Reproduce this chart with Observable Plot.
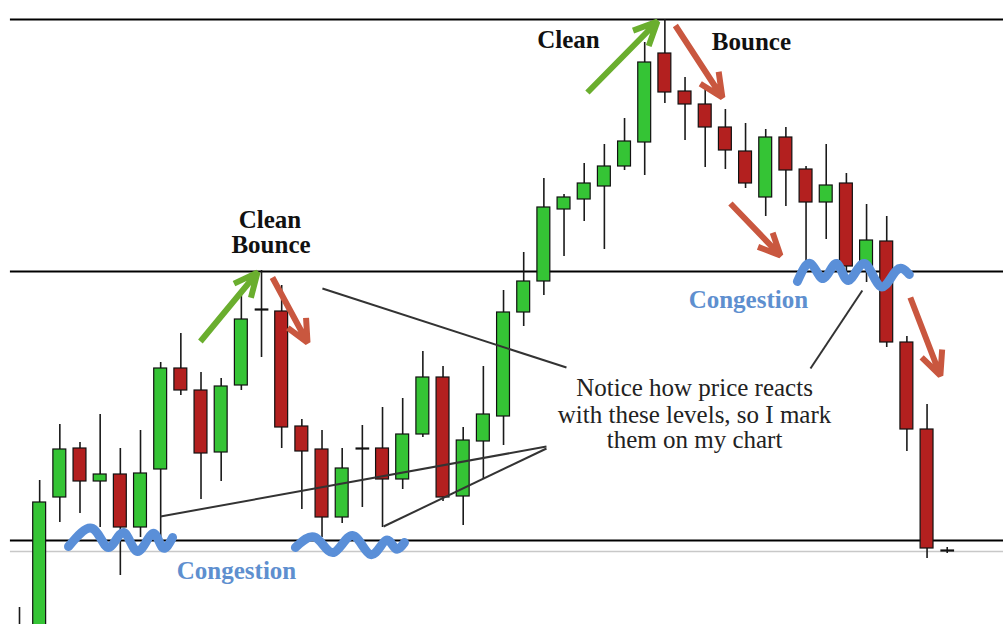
<!DOCTYPE html>
<html><head><meta charset="utf-8">
<script src="https://cdn.jsdelivr.net/npm/d3@7"></script>
<script src="https://cdn.jsdelivr.net/npm/@observablehq/plot@0.6"></script>
<style>html,body{margin:0;padding:0;background:#fff;overflow:hidden}#chart svg{display:block}</style>
</head><body><div id="chart"></div>
<script>
// Candle prices (arbitrary price units)
const opens  = [360,340,503,552,519,526,473,531,632,610,548,615,691,689,574,551,483,552,552,521,566,623,504,559,584,688,719,791,801,814,834,858,947,909,896,873,849,803,863,831,798,817,734,759,658,571,450];
const closes = [300,498,551,519,526,473,527,632,610,547,614,681,691,573,549,483,532,552,521,566,623,503,560,586,688,719,793,803,817,834,859,938,908,896,873,850,817,863,830,798,815,734,760,658,571,452,450];
const highs  = [393,520,576,558,586,552,570,638,667,628,622,705,730,715,581,570,552,575,593,602,649,634,573,634,710,748,822,806,837,856,882,958,981,923,913,891,877,871,873,834,856,827,796,784,664,596,453];
const lows   = [290,320,478,487,473,425,463,460,605,501,519,610,643,552,491,463,477,493,473,511,563,499,475,521,555,674,705,744,779,751,830,825,897,860,833,831,812,784,794,736,761,727,718,653,549,442,447];

// Support / resistance levels
const levels = [981, 729, 460];
const faintLevel = [449];

// Annotation labels
const labelText = ["Clean", "Bounce", "Clean", "Bounce"];
const labelX    = [27.22, 36.29, 12.42, 12.47];
const labelY    = [953, 951, 773, 748];
const congText  = ["Congestion", "Congestion"];
const congX     = [36.14, 10.76];
const congY     = [693, 422];
const noteText  = ["Notice how price reacts", "with these levels, so I mark", "them on my chart"];
const noteX     = [33.47, 33.47, 33.47];
const noteY     = [605, 578, 553];

// Arrows (tail -> tip)
const arrowKind = ["up", "down", "up", "down", "down", "down"];
const arrowX1 = [28.16, 32.52, 8.97, 12.54, 35.25, 44.17];
const arrowY1 = [908, 975, 659, 723, 797, 703];
const arrowX2 = [31.63, 34.85, 11.80, 14.28, 37.73, 45.66];
const arrowY2 = [979, 903, 728, 658, 745, 625];

// Pointer lines from the note
const ptrX1 = [15.02, 6.99, 18.05, 39.22];
const ptrY1 = [712, 484, 474, 632];
const ptrX2 = [27.12, 26.13, 26.13, 41.79];
const ptrY2 = [633, 554, 552, 710];

// Congestion squiggles
const wave1X = [2.43, 3.62, 4.41, 5.16, 5.85, 6.59, 7.09, 7.59];
const wave1Y = [454, 472, 453, 468, 449, 467, 453, 463];
const wave2X = [13.68, 14.68, 15.57, 16.51, 17.40, 18.15, 18.64, 19.09];
const wave2Y = [453, 463, 448, 465, 446, 460, 452, 458];
const wave3X = [38.57, 39.22, 39.86, 40.51, 41.10, 41.89, 42.69, 43.48, 44.12];
const wave3Y = [719, 737, 722, 737, 720, 737, 714, 730, 726];

// ---- build tables ----
const candles = opens.map((o, i) => ({i, open: o, close: closes[i], high: highs[i], low: lows[i]}));
const bodies = candles.filter(d => d.open !== d.close);
const dojis = candles.filter(d => d.open === d.close);
const arrows = arrowKind.map((k, j) => ({k, x1: arrowX1[j], y1: arrowY1[j], x2: arrowX2[j], y2: arrowY2[j]}));
const ptrs = ptrX1.map((x, j) => ({x1: x, y1: ptrY1[j], x2: ptrX2[j], y2: ptrY2[j]}));
const waves = [
  ...wave1X.map((x, j) => ({w: 1, x, y: wave1Y[j]})),
  ...wave2X.map((x, j) => ({w: 2, x, y: wave2Y[j]})),
  ...wave3X.map((x, j) => ({w: 3, x, y: wave3Y[j]}))
];
const labels = labelText.map((t, j) => ({t, x: labelX[j], y: labelY[j]}));
const congs = congText.map((t, j) => ({t, x: congX[j], y: congY[j]}));
const notes = noteText.map((t, j) => ({t, x: noteX[j], y: noteY[j]}));

const GREEN = "#35c435", RED = "#b3201f";
const serif = "Liberation Serif, Times New Roman, serif";
const xStart = -0.45, xEnd = 48.8;

const chart = Plot.plot({
  width: 1003, height: 624, margin: 0,
  x: {domain: [-0.942, 48.79], axis: null},
  y: {domain: [376, 1000], axis: null},
  marks: [
    Plot.ruleY(faintLevel, {x1: xStart, x2: xEnd, stroke: "#c8c8c8", strokeWidth: 1.5}),
    Plot.ruleY(levels, {x1: xStart, x2: xEnd, stroke: "#000", strokeWidth: 2}),
    Plot.ruleX(candles, {x: "i", y1: "low", y2: "high", stroke: "#1a1a1a", strokeWidth: 1.6, clip: true}),
    Plot.rect(bodies, {x1: d => d.i - 0.32, x2: d => d.i + 0.32, y1: "open", y2: "close",
      fill: d => d.close > d.open ? GREEN : RED, stroke: "#111", strokeWidth: 1.2, clip: true}),
    Plot.link(dojis, {x1: d => d.i - 0.34, x2: d => d.i + 0.34, y1: "open", y2: "open", stroke: "#111", strokeWidth: 2.2}),
    Plot.link(ptrs, {x1: "x1", y1: "y1", x2: "x2", y2: "y2", stroke: "#333", strokeWidth: 2}),
    Plot.line(waves, {x: "x", y: "y", z: "w", curve: "natural", stroke: "#5a8fd8", strokeWidth: 9, strokeLinecap: "round", strokeLinejoin: "round"}),
    Plot.arrow(arrows.filter(d => d.k === "up"), {x1: "x1", y1: "y1", x2: "x2", y2: "y2", stroke: "#6aae2e", strokeWidth: 6, headLength: 6.5, headAngle: 50, strokeLinecap: "butt", strokeLinejoin: "miter"}),
    Plot.arrow(arrows.filter(d => d.k === "down"), {x1: "x1", y1: "y1", x2: "x2", y2: "y2", stroke: "#c9573f", strokeWidth: 6, headLength: 6.5, headAngle: 50, strokeLinecap: "butt", strokeLinejoin: "miter"}),
    Plot.text(labels, {x: "x", y: "y", text: "t", fontFamily: serif, fontWeight: "bold", fontSize: 25, lineAnchor: "bottom", fill: "#111"}),
    Plot.text(congs, {x: "x", y: "y", text: "t", fontFamily: serif, fontWeight: "bold", fontSize: 25, lineAnchor: "bottom", fill: "#5e8fcf"}),
    Plot.text(notes, {x: "x", y: "y", text: "t", fontFamily: serif, fontSize: 25, lineAnchor: "bottom", fill: "#222"})
  ]
});
document.getElementById("chart").appendChild(chart);
</script>
</body></html>
